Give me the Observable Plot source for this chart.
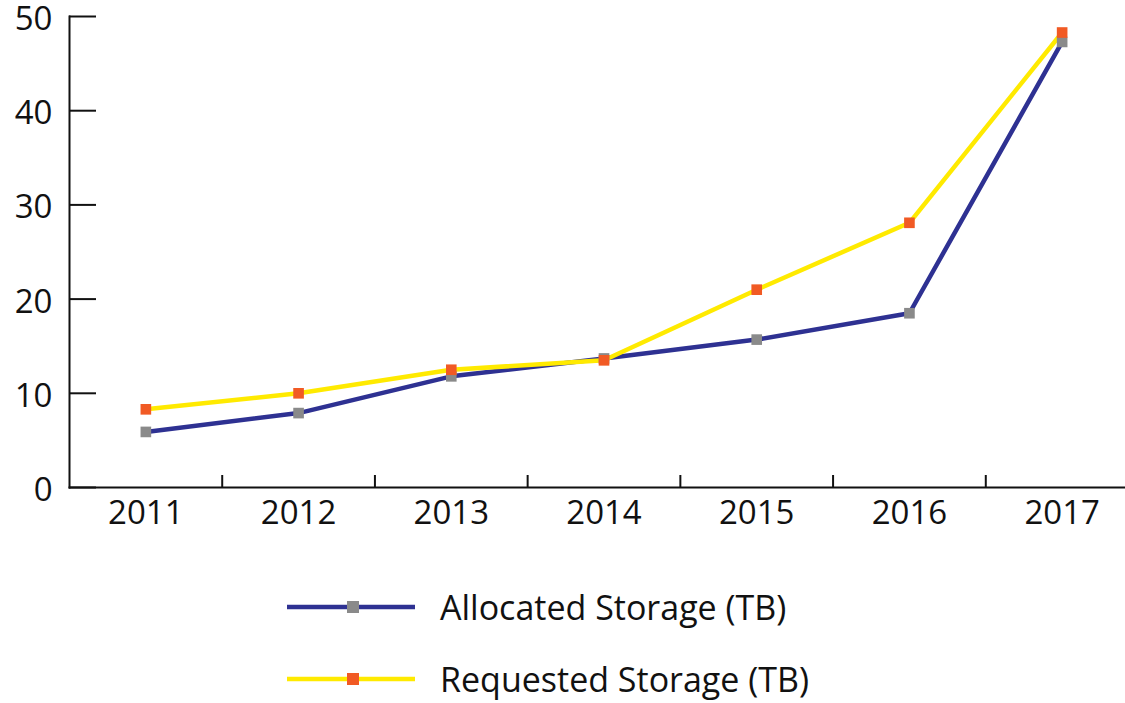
<!DOCTYPE html>
<html>
<head>
<meta charset="utf-8">
<script src="https://cdn.jsdelivr.net/npm/d3@7"></script>
<script src="https://cdn.jsdelivr.net/npm/@observablehq/plot@0.6"></script>
<style>
  body { margin: 0; background: #fff; font-family: "Open Sans", sans-serif; }
  #legend { padding-left: 287px; margin-top: 26px; }
  .row { display: flex; align-items: center; height: 72px; font-size: 34px; color: #111; }
  .row svg { margin-right: 23px; }
</style>
</head>
<body>
<div id="chart"></div>
<div id="legend"></div>
<script>
const years = [2011, 2012, 2013, 2014, 2015, 2016, 2017];
const allocated = [5.9, 7.9, 11.8, 13.7, 15.7, 18.5, 47.3];
const requested = [8.3, 10.0, 12.5, 13.5, 21.0, 28.1, 48.3];
const yTicks = [0, 10, 20, 30, 40, 50];
const seriesNames = ["Allocated Storage (TB)", "Requested Storage (TB)"];
const lineColors = ["#2e3192", "#ffea00"];
const markerColors = ["#8a8a8a", "#f15a24"];

const rows = [];
years.forEach((yr, i) => {
  rows.push({year: yr, value: allocated[i], series: seriesNames[0]});
  rows.push({year: yr, value: requested[i], series: seriesNames[1]});
});
const boundaries = years.slice(0, -1).map(y => y + 0.5);

const width = 1125, height = 545;
const mL = 69, mT = 16, mB = 58, mR = 0;
const frameW = width - mL - mR, frameH = height - mT - mB;

const chart = Plot.plot({
  width, height,
  marginLeft: mL, marginTop: mT, marginBottom: mB, marginRight: mR,
  style: {fontFamily: "'Open Sans', sans-serif", fontSize: "33px", color: "#111", background: "#fff", overflow: "visible"},
  x: {domain: [years[0] - 0.5, years[years.length - 1] + 0.5], range: [mL, 1138], axis: null},
  y: {domain: [0, 50], axis: null},
  marks: [
    Plot.axisX(years, {tickSize: 0, tickPadding: 13, tickFormat: d => String(d), fontSize: 33, label: null}),
    Plot.axisY(yTicks, {tickSize: 0, tickPadding: 17, fontSize: 33, label: null, dy: 3}),
    Plot.tickY(yTicks, {y: d => d, stroke: "#111", strokeWidth: 2, insetRight: frameW - 27}),
    Plot.ruleX(boundaries, {x: d => d, stroke: "#111", strokeWidth: 2, insetTop: frameH - 12}),
    Plot.frame({anchor: "left", stroke: "#111", strokeWidth: 2}),
    Plot.frame({anchor: "bottom", stroke: "#111", strokeWidth: 2}),
    Plot.line(rows.filter(d => d.series === seriesNames[0]), {x: "year", y: "value", stroke: lineColors[0], strokeWidth: 4.5}),
    Plot.line(rows.filter(d => d.series === seriesNames[1]), {x: "year", y: "value", stroke: lineColors[1], strokeWidth: 4.5}),
    Plot.dot(rows.filter(d => d.series === seriesNames[0]), {x: "year", y: "value", symbol: "square", r: 6, fill: markerColors[0], stroke: "none"}),
    Plot.dot(rows.filter(d => d.series === seriesNames[1]), {x: "year", y: "value", symbol: "square", r: 6, fill: markerColors[1], stroke: "none"})
  ]
});
document.getElementById("chart").appendChild(chart);

const legend = document.getElementById("legend");
seriesNames.forEach((name, i) => {
  const row = document.createElement("div");
  row.className = "row";
  row.innerHTML = `<svg width="130" height="20"><line x1="0" x2="128" y1="10" y2="10" stroke="${lineColors[i]}" stroke-width="4.5"/><rect x="60" y="4" width="12" height="12" fill="${markerColors[i]}"/></svg><span>${name}</span>`;
  legend.appendChild(row);
});
</script>
</body>
</html>
